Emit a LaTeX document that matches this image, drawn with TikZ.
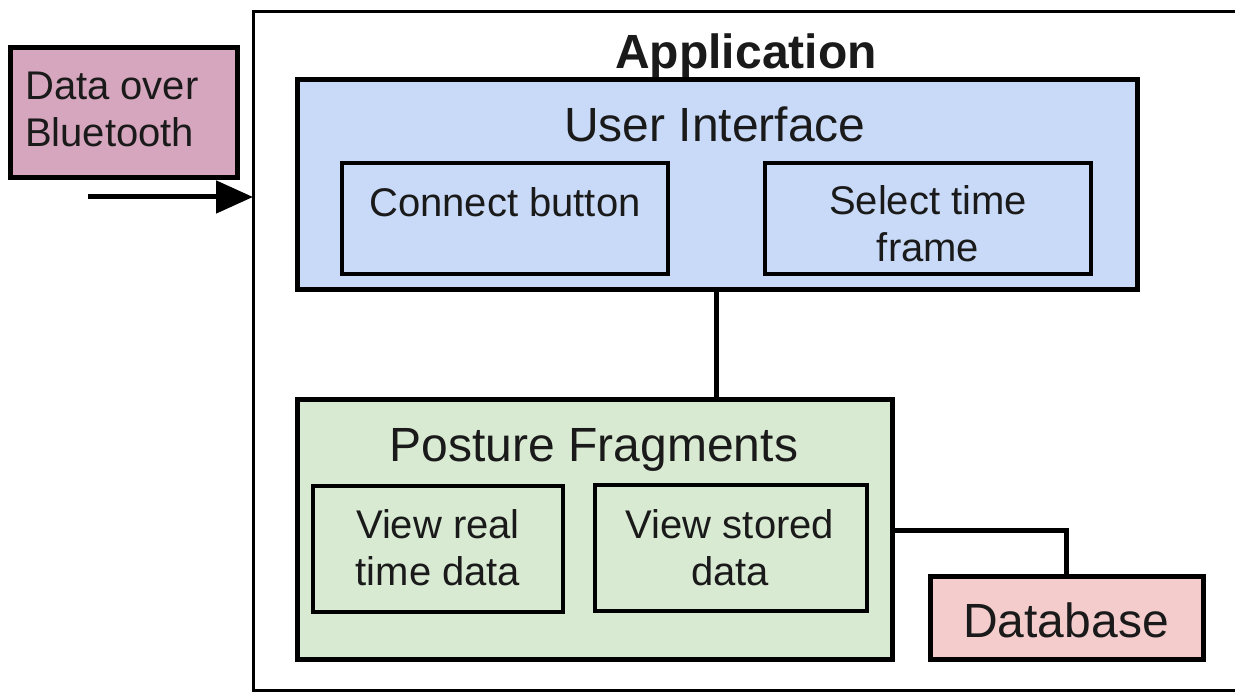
\documentclass[tikz,border=0pt]{standalone}
\usepackage{fontspec}
\setmainfont{Liberation Sans}
\usetikzlibrary{arrows.meta}
\definecolor{btpink}{HTML}{D5A6BD}
\definecolor{uiblue}{HTML}{C9DAF8}
\definecolor{pfgreen}{HTML}{D9EAD3}
\definecolor{dbred}{HTML}{F4CCCC}
\definecolor{txt}{HTML}{1A1A1A}
\begin{document}
\begin{tikzpicture}[x=1pt,y=-1pt,
  box/.style={draw=black, rectangle, inner sep=0pt, outer sep=0pt},
  outerbox/.style={box, line width=5pt},
  innerbox/.style={box, line width=3.5pt},
  conn/.style={draw=black, line width=5pt},
  big/.style={font=\fontsize{48}{52}\selectfont, inner sep=0pt, text=txt},
  small/.style={font=\fontsize{40}{47}\selectfont, inner sep=0pt, align=center, text=txt}]
\useasboundingbox (0,0) rectangle (1235,692);
\clip (0,0) rectangle (1235,692);
\fill[white] (0,0) rectangle (1235,692);
% application frame
\node[box, line width=3pt, minimum width=1000pt, minimum height=678pt] (app) at (753,351) {};
\node[big, anchor=base] (appT) at (746,69) {\bfseries Application};
% data over bluetooth
\node[outerbox, fill=btpink, minimum width=227pt, minimum height=130pt] (bt) at (123.5,113) {};
\node[small, anchor=base west, align=left] (btT) at (25,147) {Data over\\Bluetooth};
\coordinate (arrS) at (88,197);
\draw[conn, -{Triangle[length=37pt,width=32pt]}] (arrS) -- (arrS -| app.west);
% user interface
\node[outerbox, fill=uiblue, minimum width=840pt, minimum height=210pt] (ui) at (717,185) {};
\node[big, anchor=base] (uiT) at (715,142) {User Interface};
\node[innerbox, minimum width=326pt, minimum height=111pt] (cb) at (505,218.5) {};
\node[small, anchor=base] (cbT) at (505,217) {Connect button};
\node[innerbox, minimum width=326pt, minimum height=111pt] (st) at (928,218.5) {};
\node[small, anchor=base] (stT) at (928,262) {Select time\\frame};
% posture fragments
\node[outerbox, fill=pfgreen, minimum width=595pt, minimum height=259pt] (pf) at (594.5,529.5) {};
\node[big, anchor=base] (pfT) at (594,462) {Posture Fragments};
\node[innerbox, minimum width=250pt, minimum height=126pt] (vr) at (438,549) {};
\node[small, anchor=base] (vrT) at (438,585) {View real\\time data};
\node[innerbox, minimum width=272pt, minimum height=126pt] (vs) at (731,548) {};
\node[small, anchor=base] (vsT) at (730,585) {View stored\\data};
% database
\node[outerbox, fill=dbred, minimum width=273pt, minimum height=83pt] (db) at (1066.5,617.5) {};
\node[big, anchor=base] (dbT) at (1066,637) {Database};
% connectors
\coordinate (c1) at (716,0);
\coordinate (c2) at (0,530);
\draw[conn] (ui.south -| c1) -- (pf.north -| c1);
\draw[conn] (pf.east |- c2) -| (db.north);
\end{tikzpicture}
\end{document}
